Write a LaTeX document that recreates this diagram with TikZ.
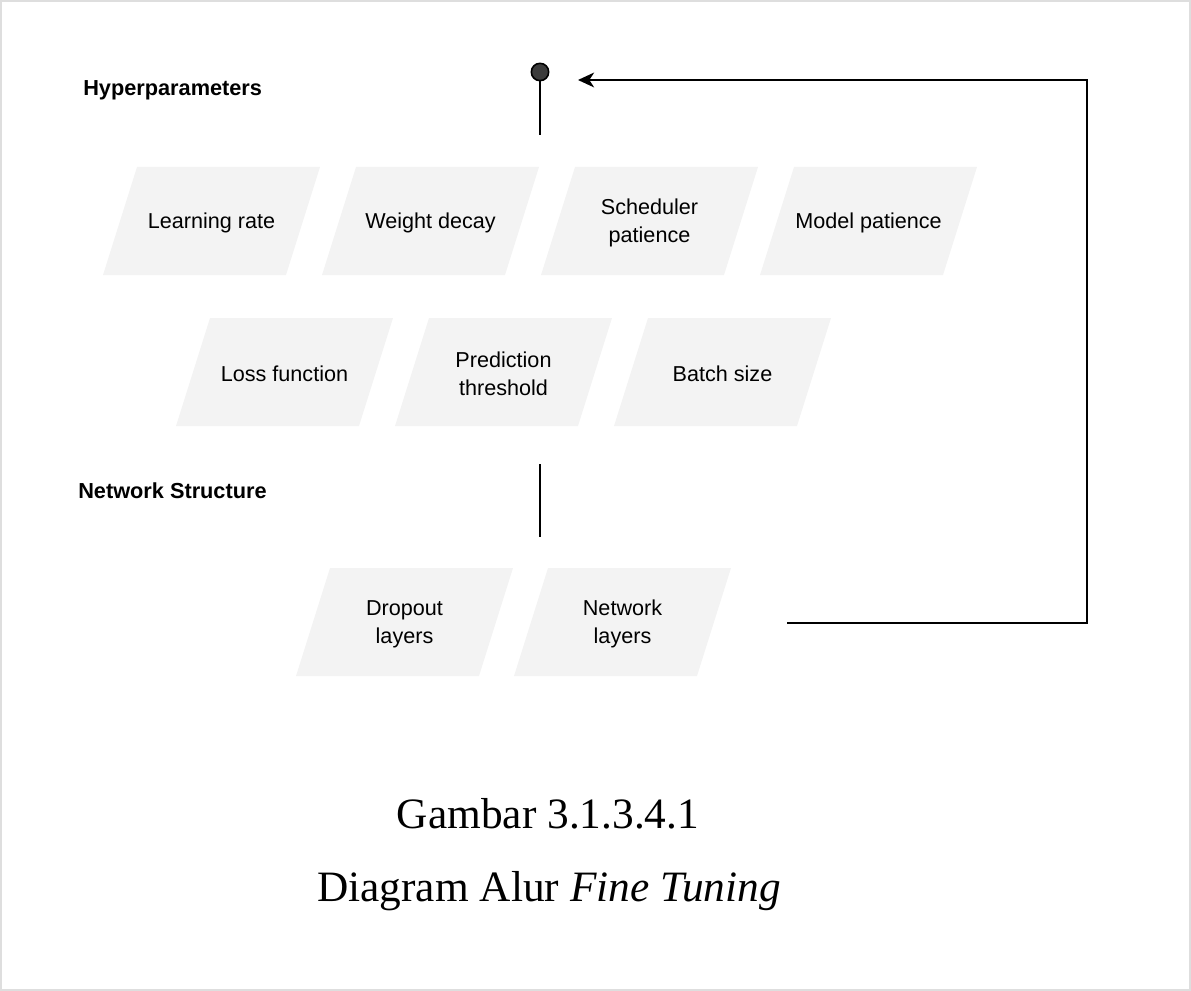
\documentclass[tikz,border=0pt]{standalone}
\usepackage{fontspec}
\setmainfont{Liberation Serif}
\newfontfamily\boxfont{Liberation Sans}
\usetikzlibrary{arrows.meta}
\definecolor{boxfill}{RGB}{243,243,243}
\definecolor{framegray}{RGB}{222,222,222}
\definecolor{dotgray}{RGB}{60,60,60}
\tikzset{
  boxtext/.style={inner sep=0pt, align=center, font=\boxfont\fontsize{16.2}{21}\selectfont},
  headtext/.style={inner sep=0pt, anchor=west, font=\boxfont\bfseries\fontsize{16.3}{20}\selectfont},
  captext/.style={inner sep=0pt, anchor=base, font=\fontsize{32.5}{40}\selectfont},
  conn/.style={line width=1.9pt, black},
}
\newcommand\pbox[4]{%
  \fill[boxfill] (#2,#3+108) -- ++(183,0) -- ++(34,-108) -- ++(-183,0) -- cycle;
  \node[boxtext] (#1) at (#2+108.5,#3+56) {#4};
}
\begin{document}
\begin{tikzpicture}[x=0.75pt,y=-0.75pt]
\useasboundingbox (0,0) rectangle (1191,991);
\draw[framegray, line width=1.2pt] (0.8,0.8) rectangle (1190.2,990);
% headings
\node[headtext] (hyp) at (83,90) {Hyperparameters};
\node[headtext] (net) at (78,491) {Network Structure};
% row 1
\pbox{lr}{103}{167}{Learning rate}
\pbox{wd}{322}{167}{Weight decay}
\pbox{sp}{541}{167}{Scheduler\\patience}
\pbox{mp}{760}{167}{Model patience}
% row 2
\pbox{lf}{176}{318}{Loss function}
\pbox{pt}{395}{318}{Prediction\\threshold}
\pbox{bs}{614}{318}{Batch size}
% row 3
\pbox{dl}{296}{568}{Dropout\\layers}
\pbox{nl}{514}{568}{Network\\layers}
% connectors
\node[circle, fill=dotgray, draw=black, line width=1.2pt, minimum size=13pt, inner sep=0pt] (dot) at (540,72) {};
\coordinate (dotend) at (540,135);
\draw[conn] (dot.south) -- (dotend);
\coordinate (ns1) at (540,464);
\coordinate (ns2) at (540,537);
\draw[conn] (ns1) -- (ns2);
\coordinate (fb0) at (787,623);
\coordinate (fb1) at (1087,623);
\coordinate (fb2) at (1087,80);
\coordinate (fb3) at (578,80);
\draw[conn, -{Stealth[length=12pt, width=11pt, inset=3.5pt]}] (fb0) -- (fb1) -- (fb2) -- (fb3);
% caption
\node[captext] (cap1) at (548,828) {Gambar 3.1.3.4.1};
\node[captext] (cap2) at (549,901) {Diagram Alur \textit{Fine Tuning}};
\end{tikzpicture}
\end{document}
